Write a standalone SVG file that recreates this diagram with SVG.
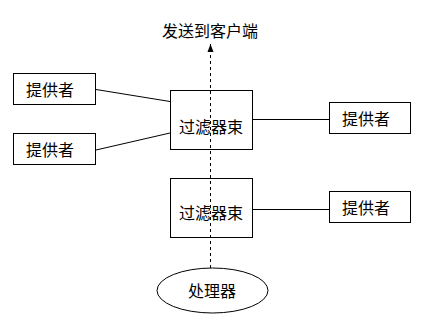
<svg xmlns="http://www.w3.org/2000/svg" width="423" height="331" viewBox="0 0 423 331">
<style>
.box{fill:#fff;stroke:#000;stroke-width:1}
.t{font-family:"Noto Sans CJK SC","Liberation Sans",sans-serif;font-size:16px;fill:#000;text-anchor:middle;dominant-baseline:central}
.ln{stroke:#000;stroke-width:1;fill:none}
</style>
<defs>
<marker id="ah" markerWidth="8" markerHeight="8" refX="8" refY="4" orient="auto" markerUnits="userSpaceOnUse" viewBox="0 0 8 8">
<path d="M0,1 L8,4 L0,7 Z" fill="#000"/>
</marker>
</defs>
<rect width="423" height="331" fill="#fff"/>
<g id="connectors">
<line class="ln" x1="96" y1="89.5" x2="170" y2="101.5"/>
<line class="ln" x1="96" y1="150" x2="170" y2="133"/>
<line class="ln" x1="252.5" y1="119.5" x2="329" y2="119.5"/>
<line class="ln" x1="252.5" y1="209.5" x2="329" y2="209.5"/>
</g>
<g id="filter1"><rect class="box" x="170.5" y="90.5" width="82" height="59"/><text class="t" x="211" y="126">过滤器束</text></g>
<g id="filter2"><rect class="box" x="170.5" y="178.5" width="82" height="59"/><text class="t" x="211" y="212">过滤器束</text></g>
<g id="p1"><rect class="box" x="13.5" y="73.5" width="82" height="31"/><text class="t" x="50" y="89">提供者</text></g>
<g id="p2"><rect class="box" x="13.5" y="133.5" width="82" height="31"/><text class="t" x="50" y="149">提供者</text></g>
<g id="p3"><rect class="box" x="329.5" y="102.5" width="81" height="31"/><text class="t" x="366" y="118">提供者</text></g>
<g id="p4"><rect class="box" x="329.5" y="191.5" width="81" height="31"/><text class="t" x="366" y="207">提供者</text></g>
<g id="processor"><ellipse class="box" cx="212.5" cy="290.5" rx="55.5" ry="22.5"/><text class="t" x="212" y="290">处理器</text></g>
<g id="flow">
<line class="ln" x1="210.5" y1="268" x2="210.5" y2="44" stroke-dasharray="3,3" marker-end="url(#ah)"/>
</g>
<g id="client"><text class="t" x="210" y="30">发送到客户端</text></g>
</svg>
